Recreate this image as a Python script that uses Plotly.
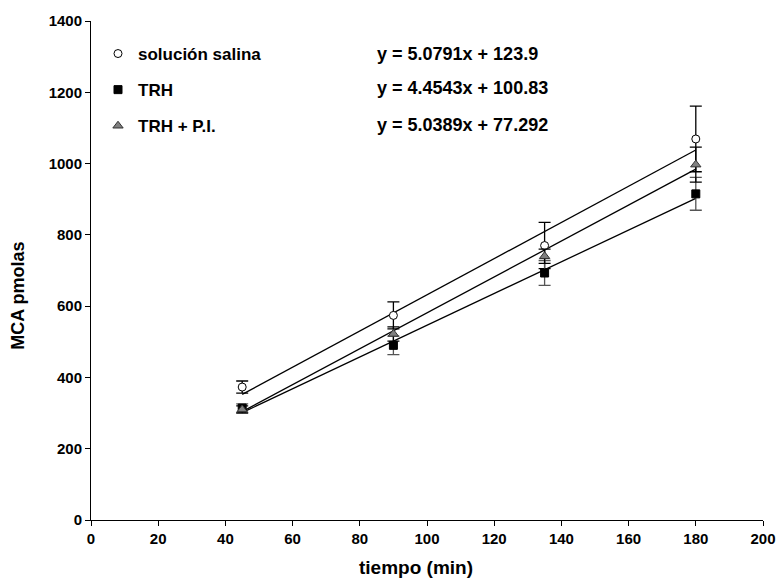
import plotly.graph_objects as go

x = [45, 90, 135, 180]
salina = [373, 574, 770, 1069]
salina_err = [17, 38, 65, 92]
trh = [314, 490, 693, 915]
trh_err = [12, 26, 35, 46]
trh_pi = [310, 522, 740, 997]
trh_pi_err = [10, 20, 20, 49]

names = ["solución salina", "TRH", "TRH + P.I."]
slopes = [5.0791, 4.4543, 5.0389]
intercepts = [123.9, 100.83, 77.292]
equations = ["y = 5.0791x + 123.9", "y = 4.4543x + 100.83", "y = 5.0389x + 77.292"]
x_title = "tiempo (min)"
y_title = "MCA pmolas"

font = "Liberation Sans, Arial, sans-serif"
W, H = 776, 578
L, R, T, B = 91, 13, 21, 57.5
PW, PH = W - L - R, H - T - B


def px(xp):
    return (xp - L) / PW


def py(yp):
    return 1 - (yp - T) / PH


fig = go.Figure()

# trend lines
for m, b in zip(slopes, intercepts):
    xs = [x[0], x[-1]]
    fig.add_trace(go.Scatter(x=xs, y=[m * v + b for v in xs], mode="lines",
                             line=dict(color="black", width=1.3), showlegend=False,
                             hoverinfo="skip"))

fig.add_trace(go.Scatter(x=x, y=salina, mode="markers", name="<b>" + names[0] + "</b>",
                         legendgroup="a",
                         marker=dict(symbol="circle", size=8, color="white",
                                     line=dict(color="black", width=1)),
                         error_y=dict(type="data", array=salina_err, color="black",
                                      thickness=1.3, width=6)))
fig.add_trace(go.Scatter(x=x, y=trh, mode="markers", name="<b>" + names[1] + "</b>",
                         legendgroup="b",
                         marker=dict(symbol="square", size=8, color="black",
                                     line=dict(color="black", width=1)),
                         error_y=dict(type="data", array=trh_err, color="#555555",
                                      thickness=1.3, width=6)))
fig.add_trace(go.Scatter(x=x, y=trh_pi, mode="markers", name="<b>" + names[2] + "</b>",
                         legendgroup="c",
                         marker=dict(symbol="triangle-up", size=9, color="#808080",
                                     line=dict(color="#333333", width=1)),
                         error_y=dict(type="data", array=trh_pi_err, color="black",
                                      thickness=1.3, width=6)))

eq_y = [54, 88, 125]
for eq, yy in zip(equations, eq_y):
    fig.add_annotation(text="<b>" + eq + "</b>", xref="paper", yref="paper",
                       x=px(375), y=py(yy), xanchor="left",
                       yanchor="middle", showarrow=False,
                       font=dict(family=font, size=18, color="black"))

fig.add_annotation(text="<b>" + x_title + "</b>", xref="paper", yref="paper",
                   x=px(416), y=py(568), xanchor="center", yanchor="middle",
                   showarrow=False, font=dict(family=font, size=19, color="black"))
fig.add_annotation(text="<b>" + y_title + "</b>", xref="paper", yref="paper",
                   x=px(18), y=py(296), xanchor="center", yanchor="middle",
                   textangle=-90, showarrow=False,
                   font=dict(family=font, size=18, color="black"))

axis_common = dict(showline=True, linecolor="black", linewidth=1, ticks="outside",
                   ticklen=5, tickcolor="black", showgrid=False, zeroline=False,
                   automargin=False,
                   tickfont=dict(family=font, size=15, color="black"))

fig.update_xaxes(range=[0, 200], dtick=20, tickprefix="<b>", ticksuffix="</b>",
                 **axis_common)
fig.update_yaxes(range=[0, 1400], dtick=200, tickprefix="<b>", ticksuffix="</b>",
                 **axis_common)

fig.update_layout(
    width=W, height=H,
    margin=dict(l=L, r=R, t=T, b=B),
    plot_bgcolor="white", paper_bgcolor="white",
    font=dict(family=font, color="black"),
    legend=dict(x=px(98), y=py(36), xanchor="left", yanchor="top",
                font=dict(family=font, size=17), tracegroupgap=11,
                traceorder="grouped", bgcolor="rgba(0,0,0,0)", itemwidth=30),
    showlegend=True,
)

fig.write_html("out.html", config={"displayModeBar": False},
               post_script="document.body.style.margin='0';document.body.style.overflow='hidden';")
